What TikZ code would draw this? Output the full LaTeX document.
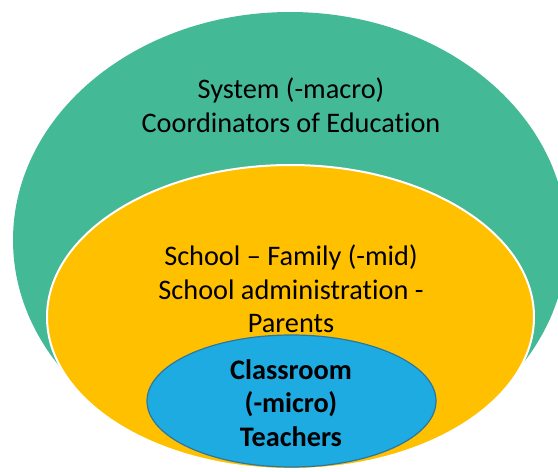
\documentclass[tikz,border=0pt]{standalone}
\usepackage{fontspec}
\setmainfont{Carlito}[Ligatures={NoCommon,NoRare,NoDiscretionary}]
\usetikzlibrary{shapes.geometric}
\definecolor{sysgreen}{HTML}{44B996}
\definecolor{midyellow}{HTML}{FFC000}
\definecolor{microblue}{HTML}{1EABE1}
\definecolor{microedge}{HTML}{2A77A2}
\tikzset{
  ring/.style={ellipse, inner sep=0pt, outer sep=0pt},
  lbl/.style={align=center, text=black, font=\fontsize{28.3}{33.5}\selectfont, inner sep=0pt},
  blbl/.style={lbl, font=\fontsize{28.3}{33.5}\selectfont\bfseries}
}
\begin{document}
\begin{tikzpicture}[x=1pt,y=-1pt]
\useasboundingbox (0,0) rectangle (558,472);
\clip (0,0) rectangle (558,472);
\node[ring, fill=sysgreen, minimum width=554pt, minimum height=456pt] (sys) at (290,240) {};
\node[ring, fill=midyellow, draw=white, line width=2pt, minimum width=487pt, minimum height=304pt] (mid) at (290.5,317) {};
\node[ring, fill=microblue, draw=microedge, line width=1.2pt, minimum width=289pt, minimum height=132pt] (micro) at (291.5,401) {};
\node[lbl] (systxt) at (291,105) {System (-macro)\\Coordinators of Education};
\node[lbl] (midtxt) at (291,289) {School – Family (-mid)\\School administration -\\Parents};
\node[blbl] (microtxt) at (291,403) {Classroom\\(-micro)\\Teachers};
\end{tikzpicture}
\end{document}
